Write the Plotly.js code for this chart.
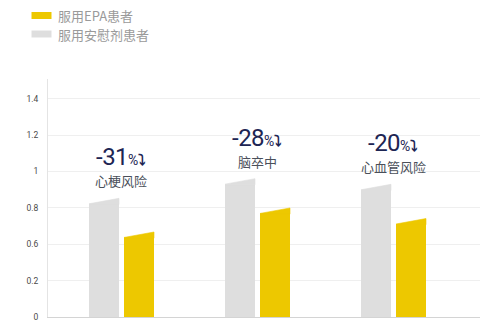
<!DOCTYPE html>
<html>
<head>
<meta charset="utf-8">
<script src="https://cdn.plot.ly/plotly-3.0.1.min.js"></script>
<style>
  html, body { margin: 0; padding: 0; background: #ffffff; }
  #chart { width: 500px; height: 333px; }
</style>
</head>
<body>
<div id="chart"></div>
<script>
// ---- data ----
const categories = ['心梗风险', '脑卒中', '心血管风险'];
const reductions = ['-31', '-28', '-20'];
const placeboValues = [0.852, 0.960, 0.929];   // 服用安慰剂患者 (top right corner)
const epaValues = [0.667, 0.799, 0.741];       // 服用EPA患者 (top right corner)
const seriesNames = ['服用EPA患者', '服用安慰剂患者'];
const tickVals = [0.2, 0.4, 0.6, 0.8, 1.0, 1.2, 1.4];
const tickText = ['0', '0.2', '0.6', '0.8', '1', '1.2', '1.4'];

// ---- style ----
const YELLOW = '#EDC800';
const GRAY = '#DEDEDE';
const NAVY = '#1D2553';
const SUB = '#4A4F5A';
const SLANT = 0.03;        // slanted bar tops
const BAR_W = 0.2206;
const OFF_GRAY = -0.239;
const OFF_EPA = 0.0184;

const M = {l: 48, r: 20, t: 79, b: 16};
const W = 500, H = 333;
const PW = W - M.l - M.r, PH = H - M.t - M.b;
const px2x = p => (p - M.l) / PW;
const py2y = p => (H - M.b - p) / PH;

const idx = categories.map((_, i) => i);

function barTrace(vals, off, color, name) {
  return {
    type: 'bar', x: idx, y: vals.map(v => v - SLANT - 0.2), base: 0.2,
    offset: off, width: BAR_W, marker: {color: color, line: {width: 0}},
    name: name, showlegend: false, hoverinfo: 'skip'
  };
}
function capTrace(vals, off, color) {
  const xs = [], ys = [];
  vals.forEach((v, i) => {
    const xl = i + off, xr = xl + BAR_W;
    xs.push(xl, xr, xr, xl, null);
    ys.push(v - SLANT, v, v - SLANT - 0.004, v - SLANT - 0.004, null);
  });
  return {
    type: 'scatter', mode: 'lines', x: xs, y: ys, fill: 'toself',
    fillcolor: color, line: {color: color, width: 0.6},
    showlegend: false, hoverinfo: 'skip', connectgaps: false
  };
}

const traces = [
  barTrace(placeboValues, OFF_GRAY, GRAY, seriesNames[1]),
  barTrace(epaValues, OFF_EPA, YELLOW, seriesNames[0]),
  capTrace(placeboValues, OFF_GRAY, GRAY),
  capTrace(epaValues, OFF_EPA, YELLOW)
];

const annotations = [];
categories.forEach((c, i) => {
  annotations.push({
    x: i, y: placeboValues[i], xref: 'x', yref: 'y',
    xanchor: 'center', yanchor: 'bottom', yshift: 25, showarrow: false,
    text: '<span style="font-size:24px;letter-spacing:-0.5px">' + reductions[i] +
          '</span><span style="font-size:14px">%</span><span style="font-size:15px;font-weight:bold">⤵</span>',
    font: {family: 'Roboto, "DejaVu Sans", sans-serif', color: NAVY, size: 24}
  });
  annotations.push({
    x: i, y: placeboValues[i], xref: 'x', yref: 'y',
    xanchor: 'center', yanchor: 'bottom', yshift: 6, showarrow: false,
    text: c,
    font: {family: '"Noto Sans CJK SC", sans-serif', color: SUB, size: 13}
  });
});

// legend (custom)
const legendItems = [
  {name: seriesNames[0], color: YELLOW, top: 12, bottom: 19, ty: 15.5},
  {name: seriesNames[1], color: GRAY, top: 30.5, bottom: 37.5, ty: 34}
];
const shapes = [];
legendItems.forEach(it => {
  shapes.push({
    type: 'rect', xref: 'paper', yref: 'paper',
    x0: px2x(31.5), x1: px2x(51.5), y0: py2y(it.bottom), y1: py2y(it.top),
    fillcolor: it.color, line: {width: 0}
  });
  annotations.push({
    xref: 'paper', yref: 'paper', x: px2x(55.5), y: py2y(it.ty),
    xanchor: 'left', yanchor: 'middle', showarrow: false, text: it.name,
    font: {family: '"Noto Sans CJK SC", sans-serif', color: '#9A9A9A', size: 13}
  });
});

const layout = {
  width: W, height: H, margin: M,
  paper_bgcolor: '#ffffff', plot_bgcolor: '#ffffff',
  barmode: 'overlay',
  showlegend: false,
  xaxis: {
    range: [-0.5404, -0.5404 + PW / 136], showticklabels: false, showgrid: false,
    zeroline: false, showline: true, linecolor: '#D4D4D4', linewidth: 1,
    fixedrange: true
  },
  yaxis: {
    range: [0.2, 0.2 + PH / 182], tickvals: tickVals, ticktext: tickText,
    showgrid: true, gridcolor: '#EFEFEF', gridwidth: 1, zeroline: false,
    showline: true, linecolor: '#E4E4E4', linewidth: 1,
    ticks: '', ticklabelstandoff: 7,
    tickfont: {family: 'Roboto, sans-serif', size: 8.5, color: '#4A4A4A'},
    fixedrange: true
  },
  shapes: shapes,
  annotations: annotations
};

Plotly.newPlot('chart', traces, layout, {displayModeBar: false, staticPlot: true});
</script>
</body>
</html>
